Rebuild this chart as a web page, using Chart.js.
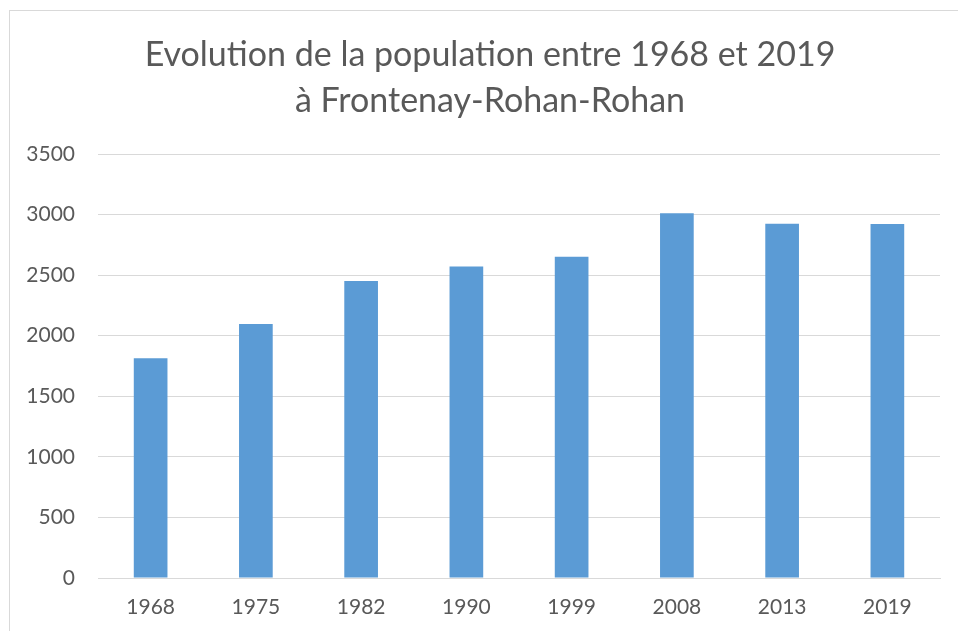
<!DOCTYPE html>
<html>
<head>
<meta charset="utf-8">
<script src="https://cdn.jsdelivr.net/npm/chart.js@4/dist/chart.umd.min.js"></script>
<style>
  html, body { margin: 0; padding: 0; background: #fff; }
  #frame {
    position: absolute; left: 9px; top: 10px; width: 1000px; height: 700px;
    border: 1px solid #d9d9d9; box-sizing: border-box;
  }
  #wrap { position: absolute; left: 0; top: 0; width: 958px; height: 631px; }
</style>
</head>
<body>
<div id="frame"></div>
<div id="wrap"><canvas id="chart" width="958" height="631"></canvas></div>
<script>
// values
const years = ['1968', '1975', '1982', '1990', '1999', '2008', '2013', '2019'];
const population = [1813, 2097, 2451, 2571, 2651, 3011, 2924, 2922];
const titleLines = ['Evolution de la population entre 1968 et 2019', 'à Frontenay-Rohan-Rohan'];

const textColor = '#595959';
const gridColor = '#d9d9d9';
const fontFamily = 'Lato, "Open Sans", sans-serif';

// the original title sits right of the canvas centre, so draw it ourselves
const offsetTitle = {
  id: 'offsetTitle',
  afterDraw(chart) {
    const ctx = chart.ctx;
    ctx.save();
    ctx.font = `34px ${fontFamily}`;
    ctx.fillStyle = textColor;
    ctx.textAlign = 'center';
    ctx.textBaseline = 'middle';
    titleLines.forEach((line, i) => ctx.fillText(line, 490, 55 + i * 46));
    ctx.restore();
  },
};

new Chart(document.getElementById('chart'), {
  type: 'bar',
  data: {
    labels: years,
    datasets: [{
      data: population,
      backgroundColor: '#5b9bd5',
      categoryPercentage: 1,
      barPercentage: 0.32,
    }],
  },
  options: {
    responsive: false,
    animation: false,
    layout: { padding: { top: 154, left: 0, right: 18, bottom: 12 } },
    plugins: {
      legend: { display: false },
      tooltip: { enabled: false },
      title: { display: false },
    },
    scales: {
      x: {
        grid: { display: false, drawTicks: false },
        border: { display: true, color: gridColor },
        ticks: { color: textColor, font: { family: fontFamily, size: 21 }, padding: 17 },
        afterFit: (scale) => { scale.height = 41; },
      },
      y: {
        min: 0,
        max: 3500,
        grid: { color: gridColor, drawTicks: false },
        border: { display: false },
        ticks: {
          stepSize: 500,
          color: textColor,
          font: { family: fontFamily, size: 21 },
          padding: 23,
          callback: (value) => String(value),
        },
        afterFit: (scale) => { scale.width = 98; },
      },
    },
  },
  plugins: [offsetTitle],
});
</script>
</body>
</html>
